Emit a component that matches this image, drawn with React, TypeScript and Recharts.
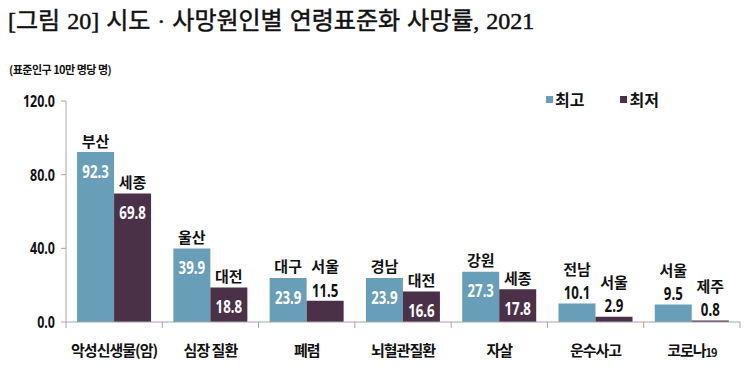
import React from "react";
import { BarChart, Bar, XAxis, YAxis, LabelList } from "recharts";

// 사망원인 (categories)
const causes = ["악성신생물(암)", "심장 질환", "폐렴", "뇌혈관질환", "자살", "운수사고", "코로나19"];

// 최고 시도 and value
const highRegion = ["부산", "울산", "대구", "경남", "강원", "전남", "서울"];
const highValues = [92.3, 39.9, 23.9, 23.9, 27.3, 10.1, 9.5];

// 최저 시도 and value
const lowRegion = ["세종", "대전", "서울", "대전", "세종", "서울", "제주"];
const lowValues = [69.8, 18.8, 11.5, 16.6, 17.8, 2.9, 0.8];

const yTicks = [0, 40, 80, 120];

const data = causes.map((name, i) => ({
  name,
  high: highValues[i],
  low: lowValues[i],
}));

const W = 750;
const H = 369;
const MARGIN = { top: 101, right: 10, bottom: 17, left: 0 };
const Y_AXIS_W = 66;
const BAND = (W - MARGIN.left - MARGIN.right - Y_AXIS_W) / causes.length;

const HIGH_COLOR = "#689EB8";
const LOW_COLOR = "#4B3148";
const AXIS_COLOR = "#A6A6A6";
const KR_FONT = "'Noto Sans CJK KR', 'Noto Sans', sans-serif";
const NUM_FONT = "'Noto Sans', 'Noto Sans CJK KR', sans-serif";

// narrow bold text, like the source's condensed face
const Narrow = ({ x, y, anchor = "middle", size, fill, children }: any) => (
  <text
    transform={`translate(${x},${y}) scale(0.78,1)`}
    textAnchor={anchor}
    dominantBaseline="central"
    fontFamily={NUM_FONT}
    fontWeight={700}
    fontSize={size}
    fill={fill}
  >
    {children}
  </text>
);

// value inside the bar when the bar is tall enough, otherwise above it
const makeLabel = (regions: string[]) => (props: any) => {
  const { x, y, width, value, index } = props;
  const cx = x + width / 2;
  const inside = value >= 15;
  const valueY = inside ? y + 19 : y - 11;
  const nameY = inside ? y - 12 : y - 35;
  return (
    <g>
      <text
        x={cx}
        y={nameY}
        textAnchor="middle"
        dominantBaseline="central"
        fontFamily={KR_FONT}
        fontWeight={700}
        fontSize={15}
        fill="#111"
      >
        {regions[index]}
      </text>
      <Narrow x={cx} y={valueY} size={17} fill={inside ? "#fff" : "#111"}>
        {value.toFixed(1)}
      </Narrow>
    </g>
  );
};

const XTick = (props: any) => {
  const { x, y, payload, index } = props;
  const label: string = payload.value;
  const m = label.match(/^(.*?)(\d+)$/);
  const lineTop = y - 8;
  return (
    <g>
      <line x1={x - BAND / 2} x2={x - BAND / 2} y1={lineTop} y2={lineTop + 6} stroke={AXIS_COLOR} />
      {index === causes.length - 1 && (
        <line x1={x + BAND / 2} x2={x + BAND / 2} y1={lineTop} y2={lineTop + 6} stroke={AXIS_COLOR} />
      )}
      <text
        x={x}
        y={y + 19}
        textAnchor="middle"
        dominantBaseline="central"
        fontFamily={KR_FONT}
        fontWeight={700}
        fontSize={15}
        letterSpacing={-1}
        fill="#111"
      >
        {m ? (
          <>
            {m[1]}
            <tspan fontSize={11} dy={3}>{m[2]}</tspan>
          </>
        ) : (
          label
        )}
      </text>
    </g>
  );
};

const YTick = (props: any) => {
  const { x, y, payload } = props;
  return (
    <Narrow x={x - 4} y={y} anchor="end" size={16} fill="#111">
      {Number(payload.value).toFixed(1)}
    </Narrow>
  );
};

const legendItems = [
  { name: "최고", color: HIGH_COLOR },
  { name: "최저", color: LOW_COLOR },
];

export default function App() {
  return (
    <div style={{ position: "absolute", left: 0, top: 0, width: W, height: H, background: "#fff" }}>
      <div
        style={{
          position: "absolute",
          left: 8,
          top: 8,
          fontFamily: "'Liberation Serif', 'Noto Sans CJK KR', serif",
          fontSize: 24,
          lineHeight: "26px",
          color: "#111",
          whiteSpace: "nowrap",
          wordSpacing: 1,
          WebkitTextStroke: "0.5px #111",
        }}
      >
        [그림 20] 시도 · 사망원인별 연령표준화 사망률, 2021
      </div>
      <div
        style={{
          position: "absolute",
          left: 9,
          top: 61,
          fontFamily: KR_FONT,
          fontSize: 11,
          fontWeight: 700,
          letterSpacing: -0.5,
          color: "#111",
          whiteSpace: "nowrap",
        }}
      >
        (표준인구 10만 명당 명)
      </div>
      <div
        style={{
          position: "absolute",
          left: 546,
          top: 87,
          display: "flex",
          fontFamily: KR_FONT,
          fontWeight: 700,
          fontSize: 16,
          color: "#111",
          zIndex: 1,
        }}
      >
        {legendItems.map((item) => (
          <div key={item.name} style={{ display: "flex", alignItems: "center", marginRight: 36 }}>
            <span style={{ width: 7, height: 7, background: item.color, marginRight: 2 }} />
            <span>{item.name}</span>
          </div>
        ))}
      </div>
      <BarChart width={W} height={H} data={data} margin={MARGIN} barCategoryGap="11.5%" barGap={0}>
        <XAxis
          dataKey="name"
          tick={<XTick />}
          tickLine={false}
          axisLine={{ stroke: AXIS_COLOR }}
          interval={0}
          height={30}
        />
        <YAxis
          width={Y_AXIS_W}
          domain={[0, 120]}
          ticks={yTicks}
          tick={<YTick />}
          tickLine={{ stroke: AXIS_COLOR }}
          tickSize={5}
          axisLine={{ stroke: AXIS_COLOR }}
        />
        <Bar dataKey="high" name="최고" fill={HIGH_COLOR} isAnimationActive={false}>
          <LabelList dataKey="high" content={makeLabel(highRegion)} />
        </Bar>
        <Bar dataKey="low" name="최저" fill={LOW_COLOR} isAnimationActive={false}>
          <LabelList dataKey="low" content={makeLabel(lowRegion)} />
        </Bar>
      </BarChart>
    </div>
  );
}
